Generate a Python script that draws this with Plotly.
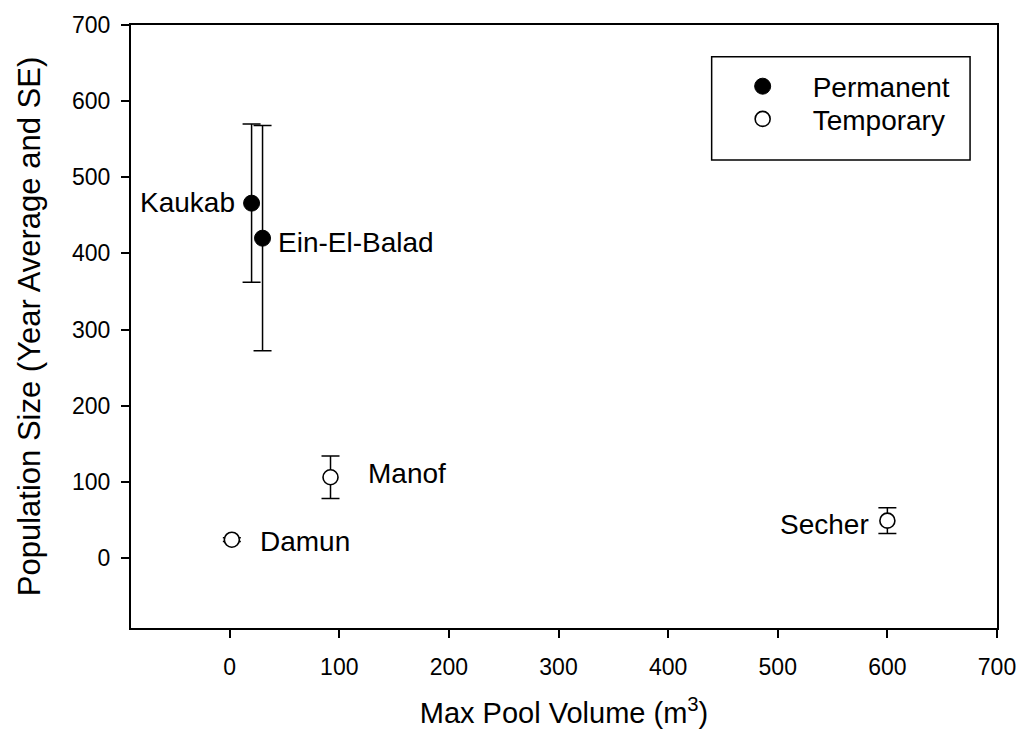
import plotly.graph_objects as go

# Pool sites: max volume (m3), mean population size and its standard error
perm_sites = ["Kaukab", "Ein-El-Balad"]
perm_volume = [20, 30]
perm_pop = [466, 420]
perm_se = [104, 148]

temp_sites = ["Damun", "Manof", "Secher"]
temp_volume = [2, 92, 600]
temp_pop = [24, 106, 49]
temp_se = [2.5, 28, 17]

x_ticks = [0, 100, 200, 300, 400, 500, 600, 700]
y_ticks = [0, 100, 200, 300, 400, 500, 600, 700]

FONT = "Liberation Sans, Arial, Helvetica, sans-serif"

# plot-area geometry in pixels, used to place the legend frame
L, R, T, B = 131, 999, 20, 628


def px_x(p):
    return (p - L) / (R - L)


def px_y(p):
    return 1 - (p - T) / (B - T)


fig = go.Figure()

err_style = dict(type="data", visible=True, color="black", thickness=1.5, width=9)

fig.add_trace(go.Scatter(
    x=perm_volume, y=perm_pop, mode="markers", name="Permanent", legend="legend",
    marker=dict(symbol="circle", size=16, color="black", line=dict(color="black", width=1)),
    error_y=dict(array=perm_se, **err_style),
))
fig.add_trace(go.Scatter(
    x=temp_volume, y=temp_pop, mode="markers", name="Temporary", legend="legend2",
    marker=dict(symbol="circle", size=15, color="white", line=dict(color="black", width=1.6)),
    error_y=dict(array=temp_se, **err_style),
))

# Site name labels placed beside each point
label_layout = {
    "Kaukab": dict(xanchor="right", xshift=-15, yshift=1),
    "Ein-El-Balad": dict(xanchor="left", xshift=13, yshift=-4),
    "Damun": dict(xanchor="left", xshift=26, yshift=-2),
    "Manof": dict(xanchor="left", xshift=35, yshift=4),
    "Secher": dict(xanchor="right", xshift=-16, yshift=-4),
}
for names, xs, ys in [(perm_sites, perm_volume, perm_pop), (temp_sites, temp_volume, temp_pop)]:
    for n, xv, yv in zip(names, xs, ys):
        fig.add_annotation(x=xv, y=yv, text=n, showarrow=False, yanchor="middle",
                           font=dict(family=FONT, size=28, color="black"), **label_layout[n])

# Legend frame
fig.add_shape(type="rect", xref="paper", yref="paper",
              x0=px_x(713), x1=px_x(972), y0=px_y(156), y1=px_y(52),
              line=dict(color="black", width=1.5), fillcolor="white", layer="below")

axis_common = dict(
    showline=True, linecolor="black", linewidth=2, mirror=True,
    ticks="outside", ticklen=8, tickwidth=1.5, tickcolor="black",
    showgrid=False, zeroline=False,
    tickfont=dict(family=FONT, size=23, color="black"),
)

legend_common = dict(xanchor="left", yanchor="middle",
                     bgcolor="rgba(0,0,0,0)", borderwidth=0,
                     font=dict(family=FONT, size=28, color="black"),
                     itemwidth=90)

fig.update_layout(
    width=1028, height=738, autosize=False,
    margin=dict(l=L, r=1028 - R, t=T, b=738 - B),
    paper_bgcolor="white", plot_bgcolor="white",
    font=dict(family=FONT, color="black"),
    xaxis=dict(range=[-90, 700], tickvals=x_ticks, ticklabelstandoff=9,
               title=dict(text="Max Pool Volume (m<sup>3</sup>)",
                          font=dict(family=FONT, size=29), standoff=24),
               **axis_common),
    yaxis=dict(range=[-92, 700], tickvals=y_ticks, ticklabelstandoff=6,
               title=dict(text="Population Size (Year Average and SE)",
                          font=dict(family=FONT, size=31), standoff=22),
               **axis_common),
    showlegend=True,
    legend=dict(x=px_x(714), y=px_y(82), **legend_common),
    legend2=dict(x=px_x(714), y=px_y(115), **legend_common),
)

fig.write_html("out.html")
